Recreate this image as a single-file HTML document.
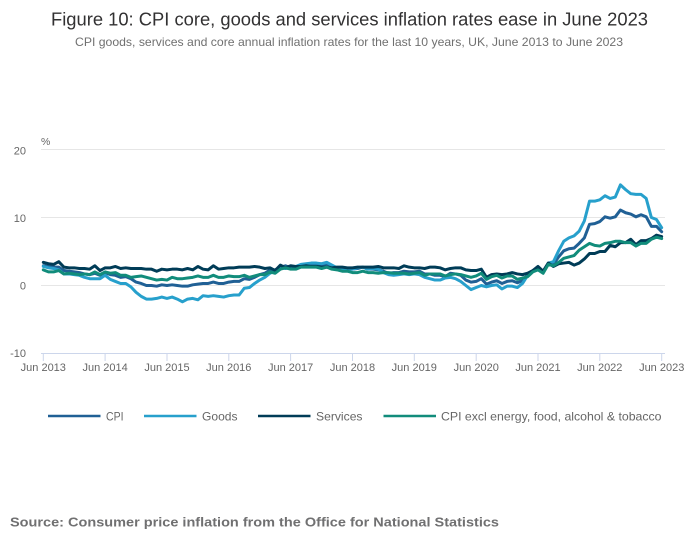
<!DOCTYPE html>
<html>
<head>
<meta charset="utf-8">
<style>
  html, body { margin: 0; padding: 0; background: #ffffff; }
  body { width: 700px; height: 549px; overflow: hidden; }
  svg { display: block; font-family: "Liberation Sans", Arial, sans-serif; }
</style>
</head>
<body>
<svg width="700" height="549" viewBox="0 0 700 549" xmlns="http://www.w3.org/2000/svg">
  <rect x="0" y="0" width="700" height="549" fill="#ffffff"/>

  <!-- Title & subtitle -->
  <text x="51" y="25.5" font-size="18" fill="#323132" textLength="597" lengthAdjust="spacingAndGlyphs">Figure 10: CPI core, goods and services inflation rates ease in June 2023</text>
  <text x="75" y="46" font-size="12" fill="#707070" textLength="548" lengthAdjust="spacingAndGlyphs">CPI goods, services and core annual inflation rates for the last 10 years, UK, June 2013 to June 2023</text>

  <!-- Gridlines -->
  <g stroke="#e6e6e6" stroke-width="1">
    <line x1="41" y1="149.5" x2="665" y2="149.5"/>
    <line x1="41" y1="217.5" x2="665" y2="217.5"/>
    <line x1="41" y1="285.5" x2="665" y2="285.5"/>
  </g>
  <!-- X axis line -->
  <line x1="41" y1="353.5" x2="665" y2="353.5" stroke="#ccd6eb" stroke-width="1"/>
  <g stroke="#ccd6eb" stroke-width="1">
    <line x1="43.3" y1="353.5" x2="43.3" y2="361"/>
    <line x1="105.1" y1="353.5" x2="105.1" y2="361"/>
    <line x1="167" y1="353.5" x2="167" y2="361"/>
    <line x1="228.8" y1="353.5" x2="228.8" y2="361"/>
    <line x1="290.6" y1="353.5" x2="290.6" y2="361"/>
    <line x1="352.5" y1="353.5" x2="352.5" y2="361"/>
    <line x1="414.3" y1="353.5" x2="414.3" y2="361"/>
    <line x1="476.2" y1="353.5" x2="476.2" y2="361"/>
    <line x1="538" y1="353.5" x2="538" y2="361"/>
    <line x1="599.8" y1="353.5" x2="599.8" y2="361"/>
    <line x1="661.7" y1="353.5" x2="661.7" y2="361"/>
  </g>

  <!-- Y labels -->
  <g font-size="11" fill="#666666" text-anchor="end">
    <text x="26" y="154.5">20</text>
    <text x="26" y="222">10</text>
    <text x="26" y="289.5">0</text>
    <text x="26" y="357">-10</text>
  </g>
  <text x="41" y="145" font-size="10.5" fill="#666666">%</text>

  <!-- X labels -->
  <g font-size="11" fill="#666666" text-anchor="middle">
    <text x="43.3" y="371">Jun 2013</text>
    <text x="105.1" y="371">Jun 2014</text>
    <text x="167" y="371">Jun 2015</text>
    <text x="228.8" y="371">Jun 2016</text>
    <text x="290.6" y="371">Jun 2017</text>
    <text x="352.5" y="371">Jun 2018</text>
    <text x="414.3" y="371">Jun 2019</text>
    <text x="476.2" y="371">Jun 2020</text>
    <text x="538" y="371">Jun 2021</text>
    <text x="599.8" y="371">Jun 2022</text>
    <text x="661.7" y="371">Jun 2023</text>
  </g>

  <!-- Series -->
  <g transform="matrix(5.153 0 0 -6.8 43.3 285.5)" fill="none" stroke-linejoin="round" stroke-linecap="round">
    <!-- CPI -->
    <polyline vector-effect="non-scaling-stroke" stroke="#206095" stroke-width="3" points="0,2.9 1,2.8 2,2.7 3,2.7 4,2.2 5,2.1 6,2.0 7,1.9 8,1.7 9,1.6 10,1.8 11,1.5 12,1.9 13,1.6 14,1.5 15,1.2 16,1.3 17,1.0 18,0.5 19,0.3 20,0.0 21,0.0 22,-0.1 23,0.1 24,0.0 25,0.1 26,0.0 27,-0.1 28,-0.1 29,0.1 30,0.2 31,0.3 32,0.3 33,0.5 34,0.3 35,0.3 36,0.5 37,0.6 38,0.6 39,1.0 40,0.9 41,1.2 42,1.6 43,1.8 44,2.3 45,2.3 46,2.7 47,2.9 48,2.6 49,2.6 50,2.9 51,3.0 52,3.0 53,3.1 54,3.0 55,3.0 56,2.7 57,2.5 58,2.4 59,2.4 60,2.4 61,2.5 62,2.7 63,2.4 64,2.4 65,2.3 66,2.1 67,1.8 68,1.9 69,1.9 70,2.1 71,2.0 72,2.0 73,2.1 74,1.7 75,1.7 76,1.5 77,1.5 78,1.3 79,1.8 80,1.7 81,1.5 82,0.8 83,0.5 84,0.6 85,1.0 86,0.2 87,0.5 88,0.7 89,0.3 90,0.6 91,0.7 92,0.4 93,0.7 94,1.5 95,2.1 96,2.5 97,2.0 98,3.2 99,3.1 100,4.2 101,5.1 102,5.4 103,5.5 104,6.2 105,7.0 106,9.0 107,9.1 108,9.4 109,10.1 110,9.9 111,10.1 112,11.1 113,10.7 114,10.5 115,10.1 116,10.4 117,10.1 118,8.7 119,8.7 120,7.9"/>
    <!-- Goods -->
    <polyline vector-effect="non-scaling-stroke" stroke="#27a0cc" stroke-width="3" points="0,2.8 1,2.6 2,2.5 3,2.3 4,1.7 5,1.7 6,1.6 7,1.5 8,1.2 9,1.0 10,1.0 11,1.0 12,1.5 13,0.9 14,0.6 15,0.3 16,0.3 17,-0.2 18,-1.0 19,-1.6 20,-2.0 21,-2.0 22,-1.9 23,-1.7 24,-1.9 25,-1.7 26,-2.0 27,-2.4 28,-2.0 29,-1.9 30,-2.1 31,-1.5 32,-1.6 33,-1.5 34,-1.6 35,-1.7 36,-1.5 37,-1.4 38,-1.4 39,-0.4 40,-0.3 41,0.3 42,0.8 43,1.2 44,1.8 45,2.2 46,2.6 47,2.5 48,2.6 49,2.8 50,3.1 51,3.2 52,3.3 53,3.3 54,3.2 55,3.4 56,3.0 57,2.6 58,2.5 59,2.4 60,2.4 61,2.6 62,2.7 63,2.4 64,2.5 65,2.4 66,1.9 67,1.6 68,1.5 69,1.6 70,1.7 71,1.6 72,1.7 73,1.6 74,1.2 75,1.0 76,0.8 77,0.8 78,1.1 79,1.2 80,1.0 81,0.6 82,0.0 83,-0.6 84,-0.3 85,0.0 86,-0.2 87,0.0 88,0.1 89,-0.5 90,-0.1 91,-0.1 92,-0.3 93,0.3 94,1.5 95,2.2 96,2.4 97,2.0 98,3.3 99,3.5 100,5.1 101,6.5 102,7.0 103,7.3 104,8.0 105,9.5 106,12.4 107,12.4 108,12.6 109,13.2 110,12.8 111,13.0 112,14.8 113,14.1 114,13.5 115,13.4 116,13.4 117,12.8 118,10.0 119,9.7 120,8.5"/>
    <!-- Services -->
    <polyline vector-effect="non-scaling-stroke" stroke="#003c57" stroke-width="3" points="0,3.4 1,3.2 2,3.1 3,3.5 4,2.7 5,2.6 6,2.6 7,2.5 8,2.5 9,2.4 10,2.9 11,2.2 12,2.6 13,2.6 14,2.8 15,2.5 16,2.6 17,2.5 18,2.5 19,2.5 20,2.4 21,2.4 22,2.1 23,2.4 24,2.3 25,2.4 26,2.4 27,2.3 28,2.5 29,2.3 30,2.8 31,2.4 32,2.3 33,2.9 34,2.4 35,2.5 36,2.6 37,2.6 38,2.7 39,2.7 40,2.7 41,2.8 42,2.7 43,2.5 44,2.6 45,2.2 46,3.0 47,2.6 48,2.9 49,2.8 50,2.8 51,2.9 52,2.8 53,2.8 54,2.7 55,2.7 56,2.6 57,2.7 58,2.7 59,2.6 60,2.6 61,2.7 62,2.7 63,2.7 64,2.7 65,2.8 66,2.6 67,2.6 68,2.6 69,2.5 70,2.9 71,2.7 72,2.6 73,2.6 74,2.5 75,2.7 76,2.7 77,2.6 78,2.3 79,2.5 80,2.6 81,2.6 82,2.3 83,2.2 84,2.2 85,2.4 86,1.2 87,1.6 88,1.7 89,1.6 90,1.7 91,1.9 92,1.7 93,1.6 94,1.8 95,2.2 96,2.8 97,2.1 98,3.3 99,2.8 100,3.2 101,3.3 102,3.4 103,3.0 104,3.3 105,3.9 106,4.7 107,4.7 108,5.0 109,5.0 110,5.9 111,5.7 112,6.3 113,6.3 114,6.8 115,6.0 116,6.6 117,6.6 118,6.9 119,7.4 120,7.2"/>
    <!-- CPI excl energy, food, alcohol & tobacco -->
    <polyline vector-effect="non-scaling-stroke" stroke="#118c7b" stroke-width="3" points="0,2.3 1,2.0 2,2.0 3,2.2 4,1.7 5,1.8 6,1.7 7,1.6 8,1.7 9,1.6 10,2.0 11,1.6 12,2.0 13,1.8 14,1.9 15,1.5 16,1.5 17,1.2 18,1.3 19,1.4 20,1.2 21,1.0 22,0.8 23,0.9 24,0.8 25,1.2 26,1.0 27,1.0 28,1.1 29,1.2 30,1.4 31,1.2 32,1.2 33,1.5 34,1.2 35,1.2 36,1.4 37,1.3 38,1.3 39,1.5 40,1.2 41,1.4 42,1.6 43,1.6 44,2.0 45,1.8 46,2.4 47,2.6 48,2.4 49,2.4 50,2.7 51,2.7 52,2.7 53,2.7 54,2.5 55,2.7 56,2.4 57,2.3 58,2.1 59,2.1 60,1.9 61,1.9 62,2.1 63,1.9 64,1.9 65,1.8 66,1.9 67,1.9 68,1.8 69,1.8 70,1.8 71,1.7 72,1.8 73,1.9 74,1.5 75,1.7 76,1.7 77,1.7 78,1.4 79,1.6 80,1.7 81,1.6 82,1.4 83,1.2 84,1.4 85,1.8 86,0.9 87,1.3 88,1.5 89,1.1 90,1.4 91,1.4 92,0.9 93,1.1 94,1.3 95,2.0 96,2.3 97,1.8 98,3.1 99,2.9 100,3.4 101,4.0 102,4.2 103,4.4 104,5.2 105,5.7 106,6.2 107,5.9 108,5.8 109,6.2 110,6.3 111,6.5 112,6.5 113,6.3 114,6.3 115,5.8 116,6.2 117,6.2 118,6.8 119,7.1 120,6.9"/>
  </g>

  <!-- Legend -->
  <g stroke-width="2.5">
    <line x1="48" y1="416" x2="100.5" y2="416" stroke="#206095"/>
    <line x1="144" y1="416" x2="196.5" y2="416" stroke="#27a0cc"/>
    <line x1="258" y1="416" x2="310.5" y2="416" stroke="#003c57"/>
    <line x1="383.5" y1="416" x2="436" y2="416" stroke="#118c7b"/>
  </g>
  <g font-size="12" fill="#666666">
    <text x="106" y="420.5" textLength="17.5" lengthAdjust="spacingAndGlyphs">CPI</text>
    <text x="202" y="420.5" textLength="35.5" lengthAdjust="spacingAndGlyphs">Goods</text>
    <text x="316" y="420.5" textLength="46.5" lengthAdjust="spacingAndGlyphs">Services</text>
    <text x="441" y="420.5" textLength="220.5" lengthAdjust="spacingAndGlyphs">CPI excl energy, food, alcohol &amp; tobacco</text>
  </g>

  <!-- Source -->
  <text x="10" y="526.5" font-size="13" font-weight="bold" fill="#707071" textLength="489" lengthAdjust="spacingAndGlyphs">Source: Consumer price inflation from the Office for National Statistics</text>
</svg>
</body>
</html>
